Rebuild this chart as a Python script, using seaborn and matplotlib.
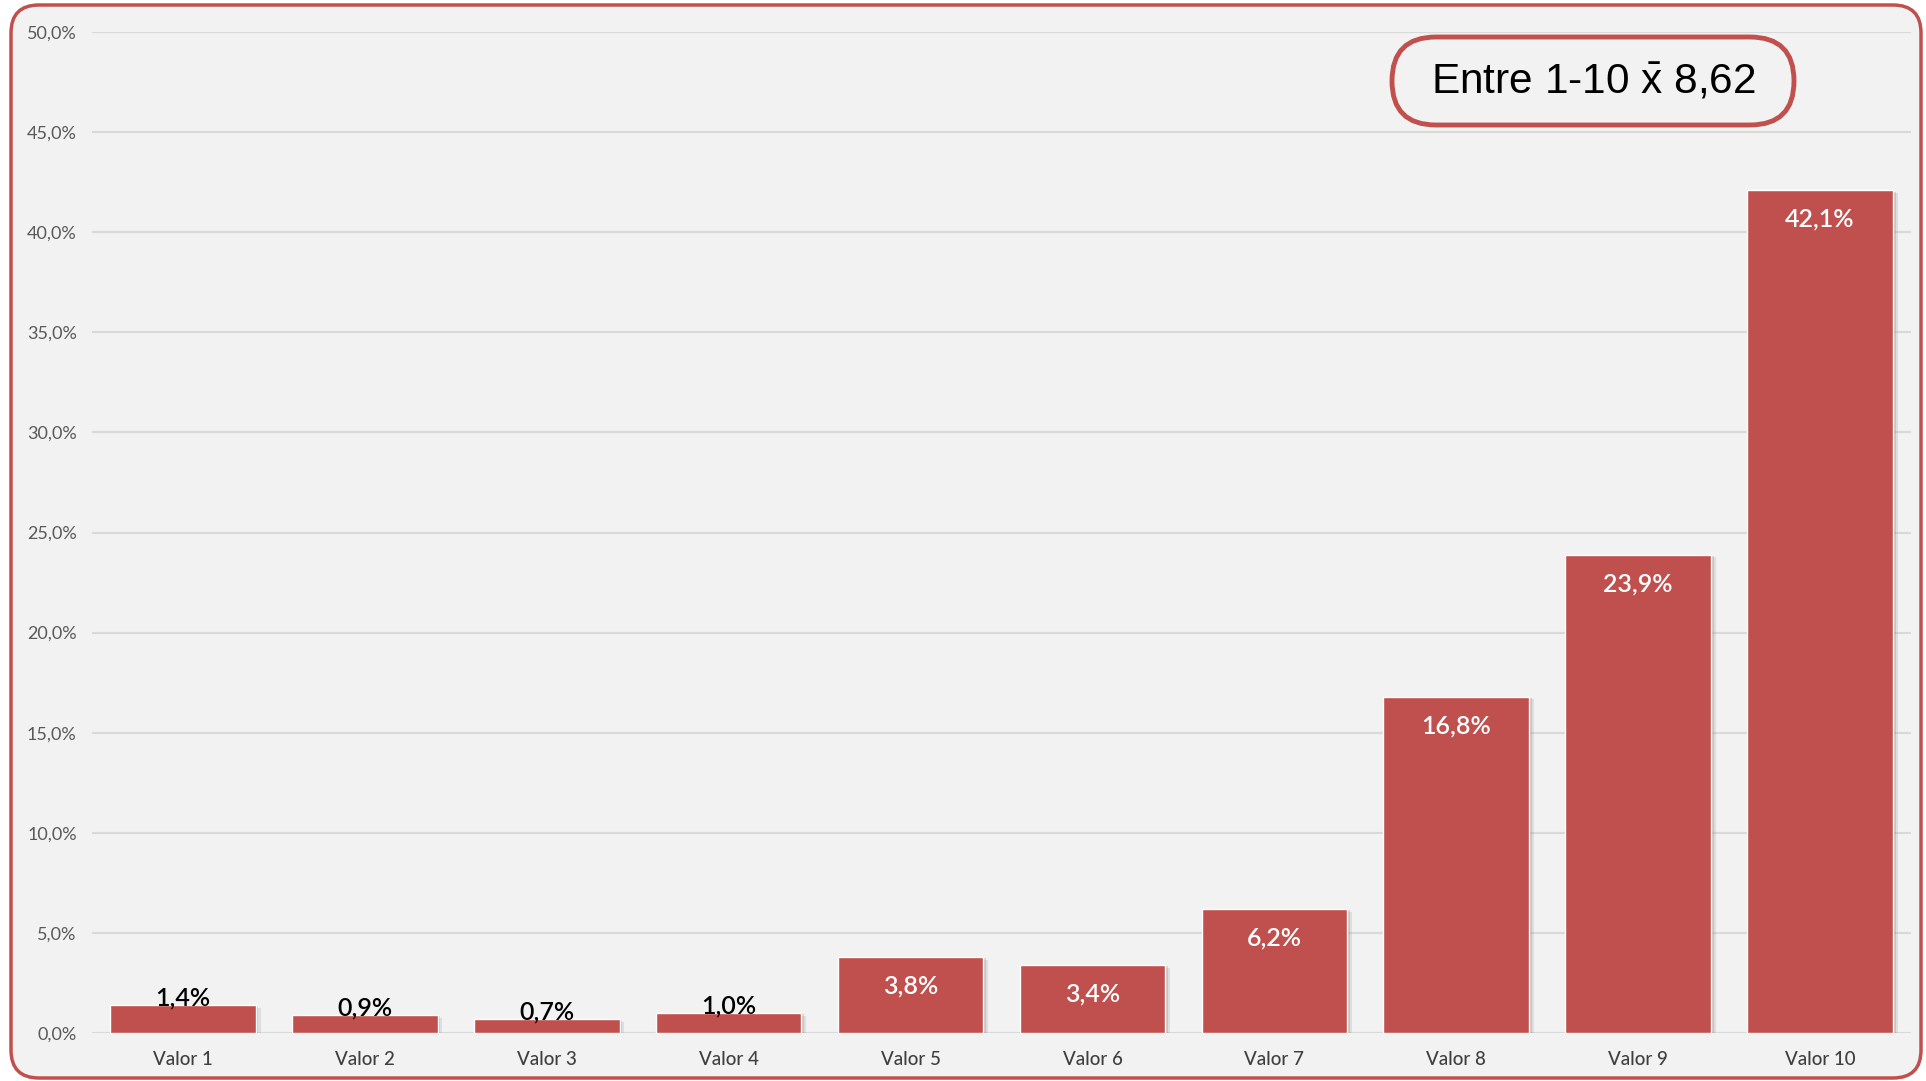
import matplotlib.pyplot as plt
import matplotlib.patheffects as pe
from matplotlib.patches import FancyBboxPatch
from matplotlib.transforms import IdentityTransform
import seaborn as sns
import pandas as pd

categories = ["Valor 1", "Valor 2", "Valor 3", "Valor 4", "Valor 5",
              "Valor 6", "Valor 7", "Valor 8", "Valor 9", "Valor 10"]
values = [1.4, 0.9, 0.7, 1.0, 3.8, 3.4, 6.2, 16.8, 23.9, 42.1]
y_ticks = [0, 5, 10, 15, 20, 25, 30, 35, 40, 45, 50]
note = r"Entre 1-10 $\mathrm{\bar{x}}$ 8,62"

RED = "#c0504d"
BG = "#f2f2f2"
W, H = 1926, 1081

df = pd.DataFrame({"cat": categories, "pct": values})

sns.set_theme(style="white")
plt.rcParams["font.family"] = ["Lato", "DejaVu Sans"]
plt.rcParams["mathtext.fontset"] = "custom"
plt.rcParams["mathtext.rm"] = "Liberation Sans"

fig = plt.figure(figsize=(W / 100, H / 100), dpi=100, facecolor="white")

# rounded frame around the whole chart (pixel coords, origin bottom-left)
frame = FancyBboxPatch((11, 3), W - 16, H - 8,
                       boxstyle="round,pad=0,rounding_size=28",
                       transform=IdentityTransform(), facecolor=BG,
                       edgecolor=RED, linewidth=2.5, zorder=-10)
fig.patches.append(frame)

ax = fig.add_axes([92 / W, 1 - 1033 / H, (1911 - 92) / W, (1033 - 32) / H])
ax.set_facecolor("none")
ax.set_zorder(1)

sns.barplot(data=df, x="cat", y="pct", color=RED, saturation=1, width=0.8, ax=ax, zorder=3)
for bar in ax.patches:
    bar.set_path_effects([
        pe.SimplePatchShadow(offset=(3.5, -2), shadow_rgbFace="#888888", alpha=0.18),
        pe.SimplePatchShadow(offset=(2, -1), shadow_rgbFace="#777777", alpha=0.25),
        pe.Normal()])

ax.set_ylim(0, 50)
ax.set_xlim(-0.5, 9.5)
ax.set_yticks(y_ticks)
ax.set_yticklabels([f"{t:.1f}%".replace(".", ",") for t in y_ticks])
ax.yaxis.grid(True, color="#d9d9d9", linewidth=1.5, zorder=0)
ax.set_axisbelow(True)
for s in ax.spines.values():
    s.set_visible(False)
ax.tick_params(axis="y", length=0, pad=11, labelsize=13, labelcolor="#595959")
ax.tick_params(axis="x", length=0, pad=13, labelsize=13.5, labelcolor="#3f3f3f")
for lbl in ax.get_xticklabels():
    lbl.set_fontweight("medium")
ax.set_xlabel("")
ax.set_ylabel("")

for i, v in enumerate(values):
    txt = f"{v:.1f}%".replace(".", ",")
    if v < 3:
        ax.annotate(txt, (i, v), xytext=(0, 5), textcoords="offset points",
                    ha="center", va="center", fontsize=18, fontweight="semibold",
                    color="black", zorder=5)
    else:
        ax.annotate(txt, (i, v), xytext=(0, -21), textcoords="offset points",
                    ha="center", va="center", fontsize=18, fontweight="semibold",
                    color="white", zorder=5)

# pill-shaped note box
pill = FancyBboxPatch((1392, H - 125), 402, 88,
                      boxstyle="round,pad=0,rounding_size=44",
                      transform=IdentityTransform(), facecolor=BG,
                      edgecolor=RED, linewidth=3.5, zorder=5)
fig.patches.append(pill)
fig.text(1593 / W, 1 - 82 / H, note, ha="center", va="center", fontsize=30.5,
         family=["Liberation Sans", "DejaVu Sans"], color="black", zorder=6)

fig.savefig("out.png", dpi=100, facecolor="white")
